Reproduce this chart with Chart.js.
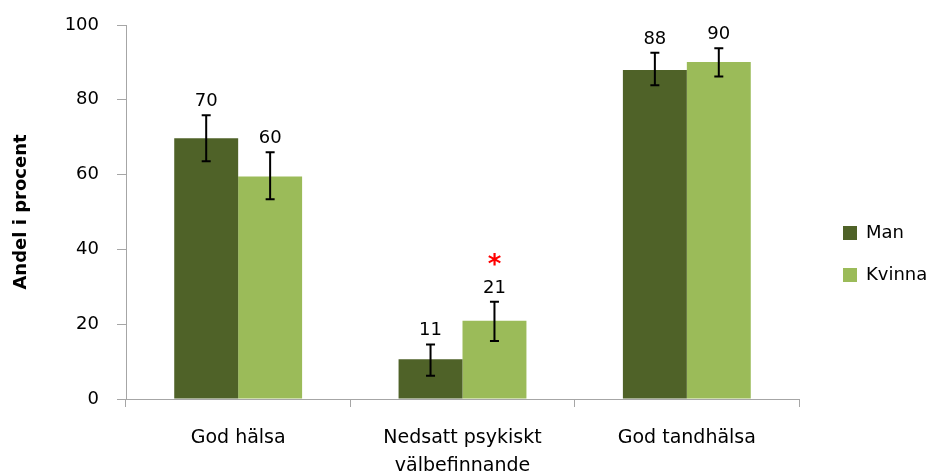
<!DOCTYPE html>
<html><head><meta charset="utf-8">
<script src="https://cdn.jsdelivr.net/npm/chart.js@4.4.1/dist/chart.umd.min.js"></script>
<style>html,body{margin:0;padding:0;background:#fff;overflow:hidden}</style>
</head><body>
<canvas id="c" width="942" height="471"></canvas>
<script>
// ---- data ----
const categories = ['God hälsa', ['Nedsatt psykiskt', 'välbefinnande'], 'God tandhälsa'];
const seriesNames = ['Man', 'Kvinna'];
const manValues = [69.7, 10.6, 88.0];
const kvinnaValues = [59.5, 20.9, 90.1];
const manLow = [63.6, 6.2, 83.9];
const manHigh = [75.9, 14.6, 92.6];
const kvinnaLow = [53.4, 15.5, 86.2];
const kvinnaHigh = [66.0, 26.0, 93.8];
const manSignificant = [false, false, false];
const kvinnaSignificant = [false, true, false];
const yTickValues = [0, 20, 40, 60, 80, 100];

const MAN_COLOR = '#4F6228';
const KVINNA_COLOR = '#9BBB59';
const AXIS_COLOR = '#a6a6a6';

// error bars, value labels and significance markers
const errorBarPlugin = {
  id: 'errorBars',
  afterDatasetsDraw(chart) {
    const ctx = chart.ctx;
    const yScale = chart.scales.y;
    chart.data.datasets.forEach((ds, i) => {
      const meta = chart.getDatasetMeta(i);
      meta.data.forEach((el, j) => {
        const x = el.x;
        const yTop = yScale.getPixelForValue(ds.errHigh[j]);
        const yBot = yScale.getPixelForValue(ds.errLow[j]);
        ctx.save();
        ctx.strokeStyle = '#000';
        ctx.lineWidth = 2;
        ctx.beginPath();
        ctx.moveTo(x, yTop); ctx.lineTo(x, yBot);
        ctx.moveTo(x - 4.5, yTop); ctx.lineTo(x + 4.5, yTop);
        ctx.moveTo(x - 4.5, yBot); ctx.lineTo(x + 4.5, yBot);
        ctx.stroke();
        // value label
        ctx.fillStyle = '#000';
        ctx.font = '18px "DejaVu Sans"';
        ctx.textAlign = 'center';
        ctx.textBaseline = 'alphabetic';
        const labelY = yTop - 9;
        ctx.fillText(String(Math.round(ds.data[j])), x, labelY);
        if (ds.significant[j]) {
          ctx.fillStyle = '#ff0000';
          ctx.font = 'bold 26px "DejaVu Sans"';
          ctx.fillText('*', x, labelY - 20);
        }
        ctx.restore();
      });
    });
  }
};

// legend placement to the right of the plot
const legendPlacement = {
  id: 'legendPlacement',
  beforeUpdate(chart) {
    const lg = chart.legend;
    if (lg && !lg._fixedWidth) {
      const origFit = lg.fit;
      lg.fit = function () { origFit.call(this); this.width = 143; };
      lg._fixedWidth = true;
    }
  },
  afterLayout(chart) {
    const lg = chart.legend;
    if (!lg) return;
    lg.left += 20; lg.right += 20;
    lg.top += 6; lg.bottom += 6;
  }
};

new Chart(document.getElementById('c'), {
  type: 'bar',
  data: {
    labels: categories,
    datasets: [
      { label: seriesNames[0], data: manValues, errLow: manLow, errHigh: manHigh, significant: manSignificant,
        backgroundColor: MAN_COLOR, borderWidth: 0, barPercentage: 1, categoryPercentage: 0.57 },
      { label: seriesNames[1], data: kvinnaValues, errLow: kvinnaLow, errHigh: kvinnaHigh, significant: kvinnaSignificant,
        backgroundColor: KVINNA_COLOR, borderWidth: 0, barPercentage: 1, categoryPercentage: 0.57 }
    ]
  },
  options: {
    responsive: false,
    animation: false,
    devicePixelRatio: 1,
    layout: { padding: { top: 25, left: 0, right: 0, bottom: 0 } },
    plugins: {
      tooltip: { enabled: false },
      legend: {
        position: 'right',
        align: 'center',
        labels: {
          boxWidth: 14, boxHeight: 14, padding: 24, color: '#000',
          font: { family: 'DejaVu Sans', size: 18 }
        }
      }
    },
    scales: {
      x: {
        grid: { drawOnChartArea: false, drawTicks: true, tickLength: 8, color: AXIS_COLOR, offset: true },
        border: { color: AXIS_COLOR, width: 1 },
        ticks: {
          color: '#000', padding: 17, maxRotation: 0, autoSkip: false,
          font: { family: 'DejaVu Sans', size: 19, lineHeight: '28px' }
        },
        afterFit(s) { s.height = 72; }
      },
      y: {
        min: 0, max: 100,
        afterBuildTicks(s) { s.ticks = yTickValues.map(v => ({ value: v })); },
        grid: { drawOnChartArea: false, drawTicks: true, tickLength: 9, color: AXIS_COLOR },
        border: { color: AXIS_COLOR, width: 1 },
        ticks: { color: '#000', padding: 18, font: { family: 'DejaVu Sans', size: 18 } },
        title: {
          display: true, text: 'Andel i procent', color: '#000',
          font: { family: 'DejaVu Sans', size: 18, weight: 'bold' },
          padding: { top: 11, bottom: 0 }
        },
        afterFit(s) { s.width = 126; s.paddingTop = 0; s.paddingBottom = 0; }
      }
    }
  },
  plugins: [errorBarPlugin, legendPlacement]
});
</script>
</body></html>
